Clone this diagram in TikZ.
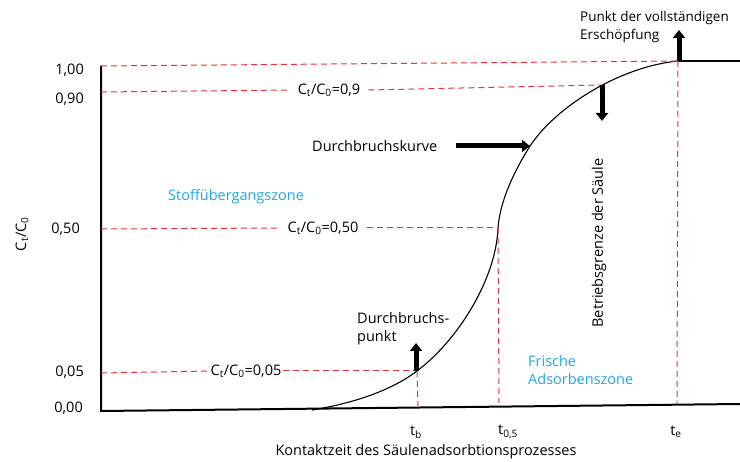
\documentclass[tikz,border=0pt]{standalone}
\usepackage{fontspec}
\setmainfont{Open Sans}
\usetikzlibrary{arrows.meta, positioning}
\definecolor{mRed}{HTML}{EC2F3E}
\definecolor{mCyan}{HTML}{1DA6EC}
\tikzset{
  refline/.style={mRed, dash pattern=on 6pt off 4pt, line width=1pt},
  axline/.style={black, line width=2pt},
  bcurve/.style={black, line width=1.1pt},
  blockarrow/.style={-{Triangle[length=8pt,width=12pt]}, line width=5pt},
  lbl/.style={inner sep=0pt, font=\fontsize{14.5}{18}\selectfont},
  qlbl/.style={lbl, inner xsep=8pt},
  zlbl/.style={lbl, text=mCyan, align=left},
}

\begin{document}
\begin{tikzpicture}[x=1pt, y=-1pt]
    \useasboundingbox (0,0) rectangle (740,462);
    % axes
    \coordinate (o) at (101,411);
    \coordinate (ytop) at (101,66);
    \coordinate (xend) at (740,404);
    \draw[axline] (ytop) -- (o) -- (xend);
    % curve points
    \coordinate (c0) at (312,410);
    \coordinate (c05) at (417,371);
    \coordinate (c50) at (498,228);
    \coordinate (c90) at (601,85);
    \coordinate (c100) at (678,61);
    \coordinate (cend) at (740,61);
    \coordinate (ck) at (530,146);
    \draw[bcurve] (c0) .. controls (355,403) and (392,390) .. (c05)
      .. controls (457,341) and (496,280) .. (c50)
      .. controls (500,200) and (515,170) .. (ck)
      .. controls (555,108) and (618,67) .. (c100);
    \draw[bcurve, line width=1.5pt] (c100) -- (cend);
    % ticks
    \node[lbl, anchor=east] (t100) at (84,70) {1,00};
    \node[lbl, anchor=east] (t90) at (84,99) {0,90};
    \node[lbl, anchor=east] (t50) at (80,229) {0,50};
    \node[lbl, anchor=east] (t05) at (84,372) {0,05};
    \node[lbl, anchor=east] (t00) at (83,408) {0,00};
    \node[lbl, rotate=90] (ylab) at (22,234) {C\textsubscript{t}/C\textsubscript{0}};
    % reference lines
    \coordinate (y100) at (101,66);
    \coordinate (y90) at (101,92);
    \coordinate (y50) at (101,229);
    \coordinate (y05) at (101,373);
    \node[qlbl] (q90) at (329,90) {C\textsubscript{t}/C\textsubscript{0}=0,9};
    \node[qlbl] (q50) at (323,228) {C\textsubscript{t}/C\textsubscript{0}=0,50};
    \node[qlbl, inner xsep=1pt] (q05) at (246,371) {C\textsubscript{t}/C\textsubscript{0}=0,05};
    \draw[refline] (y100) -- (c100);
    \draw[refline] (y90) -- (q90.west);
    \draw[refline] (q90.east) -- (c90);
    \draw[refline] (y50) -- (q50.west);
    \draw[refline] (q50.east) -- (c50);
    \draw[refline] (y05) -- (q05.west);
    \draw[refline] (q05.east) -- (c05);
    \coordinate (b05) at (418,406);
    \coordinate (b50) at (499,403);
    \coordinate (b100) at (677,403);
    \draw[refline] (c05) -- (b05);
    \draw[refline] (c50) -- (b50);
    \draw[refline] (c100) -- (b100);
    % time labels
    \node[lbl] (tb) at (416,432) {t\textsubscript{b}};
    \node[lbl] (t05) at (508,432) {t\textsubscript{0,5}};
    \node[lbl] (te) at (676,432) {t\textsubscript{e}};
    \node[lbl] (xlab) at (426,452) {Kontaktzeit des Säulenadsorbtionsprozesses};
    % texts
    \node[lbl, anchor=west] (kurve) at (312,146) {Durchbruchskurve};
    \node[zlbl, anchor=west] (szone) at (168,197) {Stoffübergangszone};
    \node[lbl, anchor=west, align=left] (dpunkt) at (357,329) {Durchbruchs-\\punkt};
    \node[zlbl, anchor=west] (fzone) at (528,370) {Frische\\Adsorbenszone};
    \node[lbl, anchor=west, align=left, font=\fontsize{13.5}{18}\selectfont] (erschoepf) at (580,27) {Punkt der vollständigen\\Erschöpfung};
    \node[lbl, rotate=90] (grenze) at (599,243) {Betriebsgrenze der Säule};
    % arrows
    \coordinate (a1) at (456,146);
    \coordinate (a2) at (602,121);
    \coordinate (a3) at (679,30);
    \coordinate (a4) at (416,343);
    \draw[blockarrow] (a1) -- (ck);
    \draw[blockarrow] (c90) ++(1,0) -- (a2);
    \draw[blockarrow] (c100) ++(1,0) -- (a3);
    \draw[blockarrow] (c05) ++(-1,0) -- (a4);
\end{tikzpicture}
\end{document}
